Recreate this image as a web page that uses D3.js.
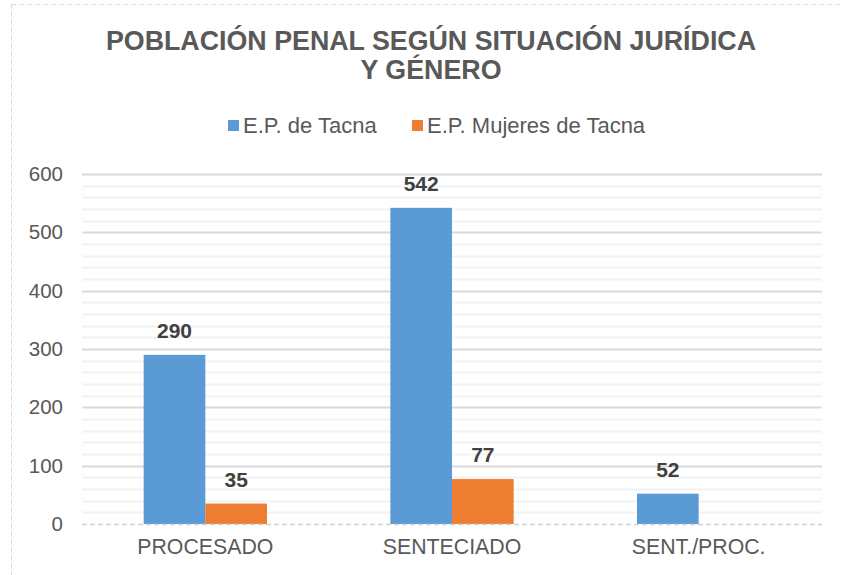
<!DOCTYPE html>
<html>
<head>
<meta charset="utf-8">
<script src="https://cdn.jsdelivr.net/npm/d3@7"></script>
<style>
  body { margin: 0; background: #fff; }
  svg { display: block; font-family: "Liberation Sans", Arial, sans-serif; }
</style>
</head>
<body>
<svg id="chart"></svg>
<script>
var categories = ["PROCESADO", "SENTECIADO", "SENT./PROC."];
var seriesNames = ["E.P. de Tacna", "E.P. Mujeres de Tacna"];
var tacna = [290, 542, 52];
var mujeres = [35, 77, null];
var yTicks = [0, 100, 200, 300, 400, 500, 600];
var colors = ["#5b9bd5", "#ed7d31"];

var width = 843, height = 575;
var margin = { left: 82, right: 21, top: 174, bottom: 50 };

var svg = d3.select("#chart")
    .attr("width", width)
    .attr("height", height);

svg.append("rect")
    .attr("x", 11.5).attr("y", 4.5)
    .attr("width", width + 10).attr("height", height + 10)
    .attr("fill", "none")
    .attr("stroke", "#d9d9d9")
    .attr("stroke-dasharray", "5,3");

// title
svg.append("text")
    .attr("x", 431).attr("y", 50)
    .attr("text-anchor", "middle")
    .attr("font-size", 26.8).attr("font-weight", "bold")
    .attr("fill", "#595959")
    .text("POBLACIÓN PENAL SEGÚN SITUACIÓN JURÍDICA");
svg.append("text")
    .attr("x", 431).attr("y", 79)
    .attr("text-anchor", "middle")
    .attr("font-size", 26.8).attr("font-weight", "bold")
    .attr("fill", "#595959")
    .text("Y GÉNERO");

var x = d3.scaleBand()
    .domain(categories)
    .range([margin.left, width - margin.right]);

var x1 = d3.scaleBand()
    .domain(seriesNames)
    .range([0, x.bandwidth()])
    .paddingInner(0)
    .paddingOuter(1);

var y = d3.scaleLinear()
    .domain([0, 600])
    .range([height - margin.bottom - 1, margin.top]);

// minor gridlines
svg.append("g")
  .selectAll("line")
  .data(d3.range(20, 601, 20).filter(function(d) { return d % 100 !== 0; }))
  .enter().append("line")
    .attr("x1", margin.left).attr("x2", width - margin.right)
    .attr("y1", function(d) { return Math.round(y(d)) + 0.5; })
    .attr("y2", function(d) { return Math.round(y(d)) + 0.5; })
    .attr("stroke", "#f2f2f2").attr("stroke-width", 2);

// major gridlines
svg.append("g")
  .selectAll("line")
  .data(yTicks.filter(function(d) { return d > 0; }))
  .enter().append("line")
    .attr("x1", margin.left).attr("x2", width - margin.right)
    .attr("y1", function(d) { return Math.round(y(d)) + 0.5; })
    .attr("y2", function(d) { return Math.round(y(d)) + 0.5; })
    .attr("stroke", "#d9d9d9").attr("stroke-width", 2);

// y axis labels
var yAxis = d3.axisLeft(y).tickValues(yTicks).tickSize(0).tickPadding(0);
var gy = svg.append("g")
    .attr("transform", "translate(" + (margin.left - 19) + ",0)")
    .call(yAxis);
gy.select(".domain").remove();
gy.selectAll("text")
    .attr("font-size", 20.5)
    .attr("font-family", "Liberation Sans, Arial, sans-serif")
    .attr("fill", "#595959");

// bars
var groups = svg.append("g")
  .selectAll("g")
  .data(categories)
  .enter().append("g")
    .attr("transform", function(d) { return "translate(" + x(d) + ",0)"; });

var rows = function(d, i) {
  return [
    { series: seriesNames[0], value: tacna[i], color: colors[0] },
    { series: seriesNames[1], value: mujeres[i], color: colors[1] }
  ].filter(function(r) { return r.value != null; });
};

groups.selectAll("rect")
  .data(rows)
  .enter().append("rect")
    .attr("x", function(d) { return x1(d.series); })
    .attr("width", x1.bandwidth())
    .attr("y", function(d) { return y(d.value); })
    .attr("height", function(d) { return y(0) - y(d.value); })
    .attr("fill", function(d) { return d.color; });

groups.selectAll("text")
  .data(rows)
  .enter().append("text")
    .attr("x", function(d) { return x1(d.series) + x1.bandwidth() / 2; })
    .attr("y", function(d) { return y(d.value) - 17; })
    .attr("text-anchor", "middle")
    .attr("font-size", 21).attr("font-weight", "bold")
    .attr("fill", "#404040")
    .text(function(d) { return d.value; });

// zero line (dashed)
svg.append("line")
    .attr("x1", margin.left).attr("x2", width - margin.right)
    .attr("y1", Math.round(y(0)) + 0.5).attr("y2", Math.round(y(0)) + 0.5)
    .attr("stroke", "#d0d0d0").attr("stroke-width", 1.5)
    .attr("stroke-dasharray", "5,3");

// x axis labels
var xAxis = d3.axisBottom(x).tickSize(0).tickPadding(0);
var gx = svg.append("g")
    .attr("transform", "translate(0," + (y(0) + 15) + ")")
    .call(xAxis);
gx.select(".domain").remove();
gx.selectAll("text")
    .attr("font-size", 21.3)
    .attr("font-family", "Liberation Sans, Arial, sans-serif")
    .attr("fill", "#595959");

// legend
var legendX = [228, 412];
var legend = svg.append("g")
  .selectAll("g")
  .data(seriesNames)
  .enter().append("g")
    .attr("transform", function(d, i) { return "translate(" + legendX[i] + ",120)"; });
legend.append("rect")
    .attr("width", 11).attr("height", 11)
    .attr("fill", function(d, i) { return colors[i]; });
legend.append("text")
    .attr("x", 15).attr("y", 13)
    .attr("font-size", 22)
    .attr("fill", "#595959")
    .text(function(d) { return d; });
</script>
</body>
</html>
